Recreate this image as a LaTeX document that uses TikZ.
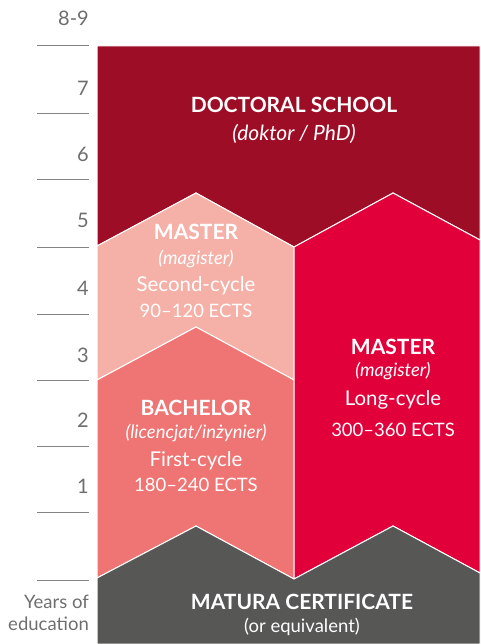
\documentclass[tikz,border=0pt]{standalone}
\usepackage{fontspec}
\setmainfont{Lato}
\usetikzlibrary{positioning}
\definecolor{phdred}{RGB}{157,13,38}
\definecolor{mscpink}{RGB}{245,177,168}
\definecolor{bscsalmon}{RGB}{238,117,115}
\definecolor{longred}{RGB}{226,0,58}
\definecolor{maturagrey}{RGB}{87,87,86}
\definecolor{axisgrey}{RGB}{110,110,110}
\tikzset{
x=1pt, y=-1pt, % pixel coordinates, y going down
stage/.style={draw=white, line width=1pt}, % sets the look of each study block
degree/.style={text=white, font=\bfseries\fontsize{21}{21}\selectfont},
latin/.style={text=white, font=\itshape\fontsize{18.5}{18.5}\selectfont},
cyclename/.style={text=white, font=\fontsize{20.4}{20.4}\selectfont},
ects/.style={text=white, font=\fontsize{18.5}{18.5}\selectfont},
year/.style={text=axisgrey, anchor=east, inner sep=0pt, font=\fontsize{20}{20}\selectfont},
yearline/.style={draw=axisgrey!85, line width=1pt},
node distance=26pt, % centre to centre distance between text lines
}

\begin{document}
\begin{tikzpicture}
        \useasboundingbox (0,0) rectangle (480,644);

        % study blocks
        \fill[phdred, stage] (97,46) -- (480,46) -- (480,240) -- (393,193) -- (294,247) -- (196,193) -- (97,246) -- cycle;
        \fill[mscpink, stage] (97,246) -- (196,193) -- (294,247) -- (294,380) -- (196,327) -- (97,380) -- cycle;
        \fill[bscsalmon, stage] (97,380) -- (196,327) -- (294,380) -- (294,579) -- (196,526) -- (97,578) -- cycle;
        \fill[longred, stage] (294,247) -- (393,193) -- (480,240) -- (480,573) -- (393,526) -- (294,579) -- cycle;
        \fill[maturagrey, stage] (97,578) -- (196,526) -- (294,579) -- (393,526) -- (480,573) -- (480,644) -- (97,644) -- cycle;

        % years axis
        \foreach \y in {46,114,180,247,314,380,446,512,580}
            \draw[yearline] (37,\y) -- (89,\y);
        \node[year] (y89) at (89,18) {8-9};
        \node[year] (y7) at (89,88) {7};
        \node[year] (y6) at (89,154) {6};
        \node[year] (y5) at (89,220) {5};
        \node[year] (y4) at (89,288) {4};
        \node[year] (y3) at (89,355) {3};
        \node[year] (y2) at (89,420) {2};
        \node[year] (y1) at (89,486) {1};
        \node[year, align=right, font=\fontsize{18.5}{22}\selectfont] (yrs) at (89,613) {Years of\\education};

        % labels
        \node[degree] (phd) at (294,105) {DOCTORAL SCHOOL};
        \node[latin, below of=phd, node distance=29pt, font=\itshape\fontsize{21}{21}\selectfont] (phdlat) {(doktor / PhD)};

        \node[degree] (msc) at (196,232) {MASTER};
        \node[latin, below of=msc, node distance=27pt] (msclat) {(magister)};
        \node[cyclename, below of=msclat, node distance=27pt] (msccyc) {Second-cycle};
        \node[ects, below of=msccyc, node distance=25pt] (mscects) {90–120 ECTS};

        \node[degree] (lmsc) at (393,347) {MASTER};
        \node[latin, below of=lmsc, node distance=24pt] (lmsclat) {(magister)};
        \node[cyclename, below of=lmsclat, node distance=29pt] (lmsccyc) {Long-cycle};
        \node[ects, below of=lmsccyc, node distance=30pt] (lmscects) {300–360 ECTS};

        \node[degree] (bsc) at (196,408) {BACHELOR};
        \node[latin, below of=bsc, node distance=25pt] (bsclat) {(licencjat/inżynier)};
        \node[cyclename, below of=bsclat, node distance=28pt] (bsccyc) {First-cycle};
        \node[ects, below of=bsccyc, node distance=24pt] (bscects) {180–240 ECTS};

        \node[degree] (mat) at (302,602) {MATURA CERTIFICATE};
        \node[ects, below of=mat, node distance=25pt] (matlat) {(or equivalent)};
\end{tikzpicture}
\end{document}
